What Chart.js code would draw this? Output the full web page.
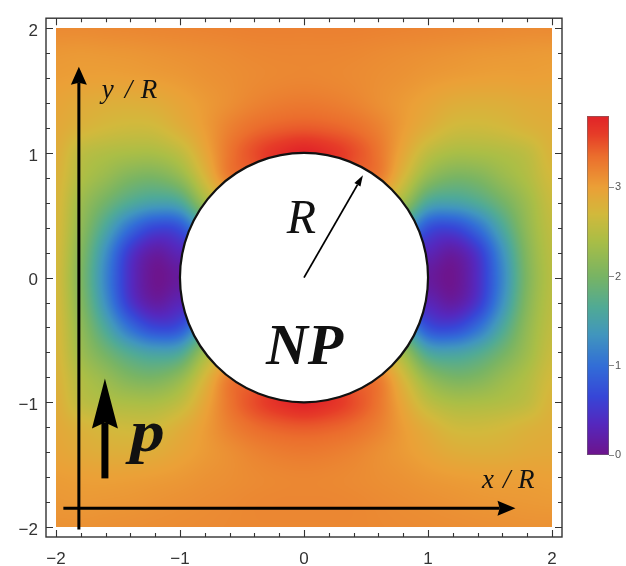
<!DOCTYPE html>
<html>
<head>
<meta charset="utf-8">
<script src="https://cdn.jsdelivr.net/npm/chart.js@4.4.1/dist/chart.umd.min.js"></script>
<style>
  html, body { margin: 0; padding: 0; background: #fff; overflow: hidden; width: 626px; height: 566px; }
  #wrap { position: relative; width: 626px; height: 566px; }
  #map { position: absolute; left: 0; top: 0; }
  #bar { position: absolute; left: 560px; top: 100px; }
</style>
</head>
<body>
<div id="wrap">
  <canvas id="map" width="626" height="566"></canvas>
  <canvas id="bar" width="66" height="380"></canvas>
</div>
<script>
// Sampling nodes of the field map, in units of the particle radius R
const xNodes = [-2, -1.8, -1.6, -1.4, -1.2, -1, -0.8, -0.6, -0.4, -0.2, 0, 0.2, 0.4, 0.6, 0.8, 1, 1.2, 1.4, 1.6, 1.8, 2];
const yNodes = [2, 1.8, 1.6, 1.4, 1.2, 1, 0.8, 0.6, 0.4, 0.2, 0, -0.2, -0.4, -0.6, -0.8, -1, -1.2, -1.4, -1.6, -1.8, -2];

// Field value at each node (rows follow yNodes, columns follow xNodes); null = inside the particle
const _ = null;
const field = [
  [3.15,3.15,3.16,3.17,3.18,3.19,3.20,3.21,3.22,3.22,3.22,3.22,3.22,3.21,3.20,3.19,3.18,3.17,3.16,3.15,3.15],
  [3.06,3.05,3.06,3.07,3.09,3.11,3.13,3.15,3.17,3.18,3.18,3.18,3.17,3.15,3.13,3.11,3.09,3.07,3.06,3.05,3.04],
  [3.02,3.00,2.99,3.00,3.02,3.05,3.09,3.12,3.15,3.17,3.18,3.17,3.15,3.12,3.09,3.05,3.02,3.00,2.99,3.00,2.99],
  [2.95,2.88,2.84,2.83,2.86,2.95,3.04,3.12,3.20,3.25,3.27,3.25,3.20,3.12,3.04,2.95,2.86,2.83,2.84,2.88,2.90],
  [2.90,2.78,2.70,2.66,2.68,2.83,3.02,3.22,3.35,3.42,3.45,3.42,3.35,3.22,3.02,2.83,2.68,2.66,2.70,2.78,2.84],
  [2.85,2.55,2.45,2.40,2.40,2.55,2.92,3.30,3.52,3.70,3.80,3.70,3.52,3.30,2.92,2.55,2.40,2.40,2.45,2.55,2.78],
  [2.80,2.45,2.25,2.05,2.00,2.20,2.72,3.25,_,_,_,_,_,3.25,2.72,2.20,2.00,2.05,2.25,2.45,2.70],
  [2.77,2.30,1.95,1.65,1.50,1.60,2.30,_,_,_,_,_,_,_,2.30,1.60,1.50,1.65,1.95,2.30,2.62],
  [2.75,2.20,1.60,1.00,0.65,0.75,_,_,_,_,_,_,_,_,_,0.75,0.65,1.00,1.60,2.20,2.56],
  [2.73,2.10,1.30,0.50,0.15,0.30,_,_,_,_,_,_,_,_,_,0.30,0.15,0.50,1.30,2.10,2.52],
  [2.72,2.05,1.20,0.40,0.02,0.12,_,_,_,_,_,_,_,_,_,0.12,0.02,0.40,1.20,2.05,2.50],
  [2.73,2.10,1.30,0.50,0.15,0.30,_,_,_,_,_,_,_,_,_,0.30,0.15,0.50,1.30,2.10,2.52],
  [2.75,2.20,1.60,1.00,0.65,0.75,_,_,_,_,_,_,_,_,_,0.75,0.65,1.00,1.60,2.20,2.56],
  [2.77,2.30,1.95,1.65,1.50,1.60,2.30,_,_,_,_,_,_,_,2.30,1.60,1.50,1.65,1.95,2.30,2.62],
  [2.80,2.45,2.25,2.05,2.00,2.20,2.72,3.25,_,_,_,_,_,3.25,2.72,2.20,2.00,2.05,2.25,2.45,2.70],
  [2.85,2.55,2.45,2.40,2.40,2.55,2.92,3.30,3.52,3.70,3.80,3.70,3.52,3.30,2.92,2.55,2.40,2.40,2.45,2.55,2.78],
  [2.90,2.78,2.70,2.66,2.68,2.83,3.02,3.22,3.35,3.42,3.45,3.42,3.35,3.22,3.02,2.83,2.68,2.66,2.70,2.78,2.84],
  [2.95,2.88,2.84,2.83,2.86,2.95,3.04,3.12,3.20,3.25,3.27,3.25,3.20,3.12,3.04,2.95,2.86,2.83,2.84,2.88,2.90],
  [3.02,3.00,2.99,3.00,3.02,3.05,3.09,3.12,3.15,3.17,3.18,3.17,3.15,3.12,3.09,3.05,3.02,3.00,2.99,3.00,2.99],
  [3.06,3.05,3.06,3.07,3.09,3.11,3.13,3.15,3.17,3.18,3.18,3.18,3.17,3.15,3.13,3.11,3.09,3.07,3.06,3.05,3.04],
  [3.10,3.10,3.11,3.12,3.13,3.14,3.15,3.16,3.17,3.17,3.17,3.17,3.17,3.16,3.15,3.14,3.13,3.12,3.11,3.10,3.10]
];

// Axis ticks and colour-bar ticks
const axisTicks = [-2, -1, 0, 1, 2];
const barTicks = [0, 1, 2, 3];
const barRange = [0, 3.8];

// Rainbow palette: [value, r, g, b]
const palette = [
  [0.00, 110, 20, 140],
  [0.35, 85, 40, 190],
  [0.65, 55, 70, 215],
  [1.00, 50, 110, 215],
  [1.35, 65, 150, 190],
  [1.65, 80, 170, 150],
  [2.00, 120, 180, 100],
  [2.40, 170, 190, 70],
  [2.70, 210, 185, 60],
  [3.00, 235, 160, 55],
  [3.35, 235, 110, 45],
  [3.60, 230, 60, 40],
  [3.80, 225, 35, 40]
];

function colourOf(v) {
  if (v <= palette[0][0]) return palette[0].slice(1);
  const last = palette[palette.length - 1];
  if (v >= last[0]) return last.slice(1);
  for (let k = 1; k < palette.length; k++) {
    const a = palette[k - 1], b = palette[k];
    if (v <= b[0]) {
      const t = (v - a[0]) / (b[0] - a[0]);
      return [a[1] + t * (b[1] - a[1]), a[2] + t * (b[2] - a[2]), a[3] + t * (b[3] - a[3])];
    }
  }
  return last.slice(1);
}

// Nodes covered by the particle take the mean of their known neighbours so the
// smoothing near the rim stays continuous (the disk itself is painted white).
function completeGrid(src) {
  let g = src.map(r => r.slice());
  let open = true;
  while (open) {
    open = false;
    const next = g.map(r => r.slice());
    for (let j = 0; j < g.length; j++) {
      for (let i = 0; i < g[j].length; i++) {
        if (g[j][i] !== null) continue;
        let s = 0, n = 0;
        [[0, 1], [0, -1], [1, 0], [-1, 0]].forEach(([dj, di]) => {
          const r = g[j + dj];
          if (r && r[i + di] !== undefined && r[i + di] !== null) { s += r[i + di]; n++; }
        });
        if (n) next[j][i] = s / n; else open = true;
      }
    }
    g = next;
  }
  return g;
}

const clampI = (k, n) => Math.max(0, Math.min(n - 1, k));
function cubic(p0, p1, p2, p3, t) {
  return p1 + 0.5 * t * (p2 - p0 + t * (2 * p0 - 5 * p1 + 4 * p2 - p3 + t * (3 * (p1 - p2) + p3 - p0)));
}
function sampleGrid(g, fi, fj) {
  const i = Math.floor(fi), j = Math.floor(fj), tx = fi - i, ty = fj - j;
  const R = g.length, C = g[0].length;
  const col = [];
  for (let m = -1; m <= 2; m++) {
    const row = g[clampI(j + m, R)];
    col.push(cubic(row[clampI(i - 1, C)], row[clampI(i, C)], row[clampI(i + 1, C)], row[clampI(i + 2, C)], tx));
  }
  return cubic(col[0], col[1], col[2], col[3], ty);
}

const fullGrid = completeGrid(field);

const serif = '"Liberation Serif", "DejaVu Serif", serif';
const sans = '"Liberation Sans", Arial, sans-serif';

function arrow(ctx, x1, y1, x2, y2, lw, headLen, headW, notch) {
  const ang = Math.atan2(y2 - y1, x2 - x1);
  const ux = Math.cos(ang), uy = Math.sin(ang);
  const bx = x2 - ux * headLen, by = y2 - uy * headLen;
  const nx = x2 - ux * headLen * (1 - (notch || 0)), ny = y2 - uy * headLen * (1 - (notch || 0));
  ctx.save();
  ctx.strokeStyle = '#000';
  ctx.fillStyle = '#000';
  ctx.lineWidth = lw;
  ctx.lineCap = 'butt';
  ctx.beginPath();
  ctx.moveTo(x1, y1);
  ctx.lineTo(nx, ny);
  ctx.stroke();
  ctx.beginPath();
  ctx.moveTo(x2, y2);
  ctx.lineTo(bx - uy * headW / 2, by + ux * headW / 2);
  ctx.lineTo(nx, ny);
  ctx.lineTo(bx + uy * headW / 2, by - ux * headW / 2);
  ctx.closePath();
  ctx.fill();
  ctx.restore();
}

const fieldMap = {
  id: 'fieldMap',
  beforeDatasetsDraw(chart) {
    const { ctx, scales: { x, y } } = chart;
    const x0 = Math.round(x.getPixelForValue(xNodes[0]));
    const x1 = Math.round(x.getPixelForValue(xNodes[xNodes.length - 1]));
    const y0 = Math.round(y.getPixelForValue(yNodes[0]));
    const y1 = Math.round(y.getPixelForValue(yNodes[yNodes.length - 1]));
    const w = x1 - x0, h = y1 - y0;
    const img = ctx.createImageData(w, h);
    const dx = xNodes[1] - xNodes[0], dy = yNodes[1] - yNodes[0];
    for (let py = 0; py < h; py++) {
      const fj = (y.getValueForPixel(y0 + py + 0.5) - yNodes[0]) / dy;
      for (let px = 0; px < w; px++) {
        const fi = (x.getValueForPixel(x0 + px + 0.5) - xNodes[0]) / dx;
        const c = colourOf(sampleGrid(fullGrid, fi, fj));
        const o = (py * w + px) * 4;
        img.data[o] = c[0]; img.data[o + 1] = c[1]; img.data[o + 2] = c[2]; img.data[o + 3] = 255;
      }
    }
    ctx.putImageData(img, x0, y0);
  },
  afterDatasetsDraw(chart) {
    const { ctx, scales: { x, y } } = chart;
    const X = v => x.getPixelForValue(v), Y = v => y.getPixelForValue(v);
    // the nanoparticle, radius 1
    ctx.save();
    ctx.beginPath();
    ctx.ellipse(X(0), Y(0), X(1) - X(0), Y(0) - Y(1), 0, 0, Math.PI * 2);
    ctx.fillStyle = '#fff';
    ctx.fill();
    ctx.lineWidth = 2.2;
    ctx.strokeStyle = '#111';
    ctx.stroke();
    ctx.restore();

    // radius arrow
    arrow(ctx, X(0), Y(0), X(0.475), Y(0.82), 1.8, 11, 7, 0);
    // coordinate arrows
    arrow(ctx, X(-1.815), Y(-2.02), X(-1.815), Y(1.69), 3, 18, 16, 0.12);
    arrow(ctx, X(-1.94), Y(-1.85), X(1.705), Y(-1.85), 3, 18, 15, 0.12);
    // dipole arrow
    arrow(ctx, X(-1.605), Y(-1.61), X(-1.605), Y(-0.81), 7, 50, 26, 0.12);

    ctx.save();
    ctx.fillStyle = '#111';
    ctx.textBaseline = 'alphabetic';
    ctx.textAlign = 'left';
    ctx.font = 'italic 27px ' + serif;
    let ax = X(-1.63), ay = Y(1.437);
    ctx.fillText('y', ax, ay); ctx.fillText('/', ax + 23, ay); ctx.fillText('R', ax + 39, ay);
    ax = X(1.435); ay = Y(-1.69);
    ctx.fillText('x', ax, ay); ctx.fillText('/', ax + 21, ay); ctx.fillText('R', ax + 36, ay);
    ctx.font = 'italic 48px ' + serif;
    ctx.fillText('R', X(-0.14), Y(0.357));
    ctx.font = 'italic bold 58px ' + serif;
    ctx.textAlign = 'center';
    ctx.fillText('NP', X(0.005), Y(-0.69));
    ctx.textAlign = 'left';
    ctx.font = 'italic bold 60px ' + serif;
    ctx.translate(X(-1.4), Y(-1.39));
    ctx.scale(1.15, 1);
    ctx.fillText('p', 0, 0);
    ctx.restore();
  },
  afterDraw(chart) {
    const { ctx, chartArea: a, scales: { x, y } } = chart;
    ctx.save();
    ctx.strokeStyle = '#333';
    ctx.lineWidth = 1.4;
    ctx.strokeRect(a.left, a.top, a.right - a.left, a.bottom - a.top);
    ctx.lineWidth = 1.1;
    ctx.beginPath();
    for (let k = -10; k <= 10; k++) {
      const v = k * 0.2;
      const len = (k % 5 === 0) ? 7 : 4;
      const px = Math.round(x.getPixelForValue(v)) + 0.5;
      const py = Math.round(y.getPixelForValue(v)) + 0.5;
      ctx.moveTo(px, a.bottom); ctx.lineTo(px, a.bottom - len);
      ctx.moveTo(px, a.top); ctx.lineTo(px, a.top + len);
      ctx.moveTo(a.left, py); ctx.lineTo(a.left + len, py);
      ctx.moveTo(a.right, py); ctx.lineTo(a.right - len, py);
    }
    ctx.stroke();
    ctx.restore();
  }
};

const minusLabel = v => (v < 0 ? '\u2212' + Math.abs(v) : String(v));

new Chart(document.getElementById('map'), {
  type: 'scatter',
  data: { datasets: [] },
  plugins: [fieldMap],
  options: {
    responsive: false,
    animation: false,
    devicePixelRatio: 1,
    layout: { padding: { left: 0, top: 13, right: 64, bottom: 0 } },
    plugins: { legend: { display: false }, tooltip: { enabled: false } },
    scales: {
      x: {
        type: 'linear', min: -2.08, max: 2.08,
        afterBuildTicks: s => { s.ticks = axisTicks.map(v => ({ value: v })); },
        afterFit: s => { s.height = 29; },
        grid: { display: false, drawTicks: false },
        border: { display: false },
        ticks: { padding: 12, color: '#333', font: { family: sans, size: 17 }, callback: minusLabel, maxRotation: 0 }
      },
      y: {
        type: 'linear', min: -2.08, max: 2.08,
        afterBuildTicks: s => { s.ticks = axisTicks.map(v => ({ value: v })); },
        afterFit: s => { s.width = 46; },
        grid: { display: false, drawTicks: false },
        border: { display: false },
        ticks: { padding: 8, labelOffset: 3, color: '#333', font: { family: sans, size: 17 }, callback: minusLabel }
      }
    }
  }
});

// colour bar
const barFill = {
  id: 'barFill',
  beforeDatasetsDraw(chart) {
    const { ctx, chartArea: a, scales: { y } } = chart;
    for (let py = Math.round(a.top); py < Math.round(a.bottom); py++) {
      const c = colourOf(y.getValueForPixel(py + 0.5));
      ctx.fillStyle = `rgb(${c[0] | 0},${c[1] | 0},${c[2] | 0})`;
      ctx.fillRect(a.left, py, a.right - a.left, 1);
    }
    ctx.save();
    ctx.strokeStyle = 'rgba(110,110,110,0.55)';
    ctx.lineWidth = 1;
    ctx.strokeRect(a.left + 0.5, a.top + 0.5, a.right - a.left - 1, a.bottom - a.top - 1);
    ctx.restore();
  }
};

new Chart(document.getElementById('bar'), {
  type: 'scatter',
  data: { datasets: [] },
  plugins: [barFill],
  options: {
    responsive: false,
    animation: false,
    devicePixelRatio: 1,
    layout: { padding: { left: 27, top: 16, right: 0, bottom: 25 } },
    plugins: { legend: { display: false }, tooltip: { enabled: false } },
    scales: {
      x: { display: false, min: 0, max: 1 },
      y: {
        type: 'linear', position: 'right', min: barRange[0], max: barRange[1],
        afterBuildTicks: s => { s.ticks = barTicks.map(v => ({ value: v })); },
        afterFit: s => { s.width = 17; },
        grid: { display: true, drawOnChartArea: false, drawTicks: true, tickLength: 5, color: '#888' },
        border: { display: false },
        ticks: { padding: 1, color: '#555', font: { family: sans, size: 11 } }
      }
    }
  }
});
</script>
</body>
</html>
